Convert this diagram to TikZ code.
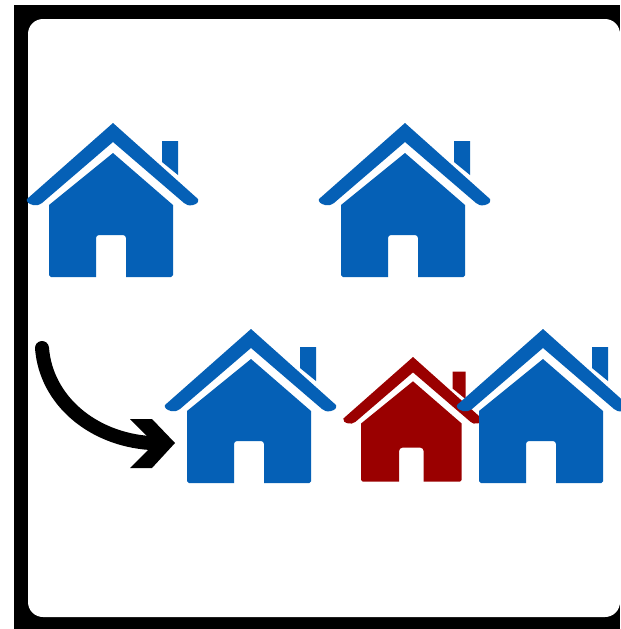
\documentclass[tikz,border=0pt]{standalone}
\usepackage{xcolor}
\usepackage{tikz}

\definecolor{houseblue}{HTML}{0560B6}
\definecolor{housered}{HTML}{9A0000}

\tikzset{
  house/.pic={
    % roof
    \fill (0,0) -- (85,76)
      .. controls (86,79) and (84,81) .. (80,82) .. controls (76,83) and (73,82) .. (71,80)
      -- (0,19) -- (-71,80)
      .. controls (-74,82) and (-77,83) .. (-80,82) .. controls (-84,81) and (-87,79) .. (-86,76) -- cycle;
    % chimney
    \fill (49,18) -- (65,18) -- (65,52) -- (49,39) -- cycle;
    % body with door
    \fill (0,30) -- (60,82) [rounded corners=1pt] -- (60,154) [sharp corners] -- (13,154)
      [rounded corners=1.7pt] -- (13,112) -- (-17,112) [sharp corners] -- (-17,154)
      [rounded corners=1pt] -- (-64,154) [sharp corners] -- (-64,82) -- cycle;
  }
}

\begin{document}
\begin{tikzpicture}[x=0.02cm, y=-0.02cm]
  \useasboundingbox (0,0) rectangle (620,629);

  \fill[black] (14,5) rectangle (620,629);
  \fill[white, rounded corners=0.3cm] (28,19) rectangle (620,617);

  % top row
  \pic[houseblue] at (113,123) {house};
  \pic[houseblue] at (405,123) {house};

  % bottom row, the red one goes under its neighbour
  \pic[houseblue] at (251,329) {house};
  \pic[housered, scale=0.81] at (413,357) {house};
  \pic[houseblue] at (543,329) {house};

  % curved arrow
  \coordinate (tail) at (42,348);
  \coordinate (tip) at (150,443);
  \draw[black, line width=0.28cm, line cap=round] (tail) .. controls (46,400) and (92,439) .. (tip);
  \fill[black] (130,419) -- (152,419) -- (175,443) -- (152,468) -- (130,468) -- (148,450) -- (148,437) -- cycle;
\end{tikzpicture}
\end{document}
